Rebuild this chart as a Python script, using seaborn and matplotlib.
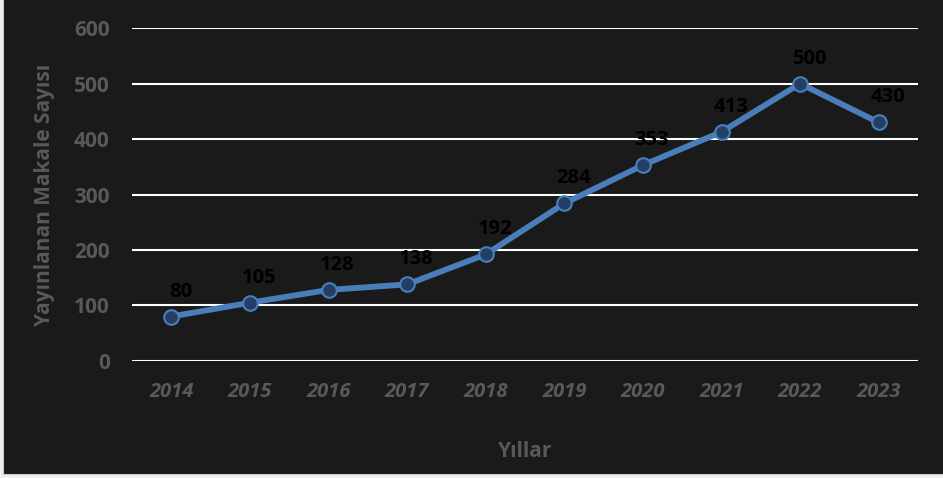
import numpy as np
import pandas as pd
import matplotlib.pyplot as plt
import seaborn as sns

years = ['2014', '2015', '2016', '2017', '2018', '2019', '2020', '2021', '2022', '2023']
counts = [80, 105, 128, 138, 192, 284, 353, 413, 500, 430]
yticks = [0, 100, 200, 300, 400, 500, 600]

df = pd.DataFrame({'Yıl': years, 'Sayı': counts})

sns.set_style('dark')
plt.rcParams['font.family'] = ['Open Sans', 'DejaVu Sans']

bg = '#1a1a1a'
grey = '#595959'
blue = '#4a7ebb'

fig = plt.figure(figsize=(9.43, 4.78), dpi=100, facecolor='#f0f0f0')
# dark chart area, the outer edge of the picture stays light
fig.add_artist(plt.Rectangle((3 / 943, 4 / 478), 1, 1, transform=fig.transFigure,
                             facecolor=bg, edgecolor='#c8c8c8', linewidth=0.8,
                             zorder=0))
ax = fig.add_axes([0.14, 0.245, 0.8335, 0.696])
ax.set_facecolor(bg)

sns.lineplot(data=df, x='Yıl', y='Sayı', ax=ax, color=blue, linewidth=4.2,
             marker='o', markersize=10.5, markerfacecolor='#243f66',
             markeredgecolor=blue, markeredgewidth=1.5, zorder=3)

# data labels above the points
for i, v in enumerate(counts):
    ax.annotate(str(v), (i, v), xytext=(9, 25), textcoords='offset pixels',
                ha='center', va='center', fontsize=14.5, fontweight='bold',
                color='black', zorder=4)

ax.set_xlim(-0.5, len(years) - 0.5)
ax.set_ylim(0, 600)
ax.set_yticks(yticks)
for y in yticks:
    ax.axhline(y, color='white', linewidth=1.5, zorder=1)
ax.grid(False)
for s in ax.spines.values():
    s.set_visible(False)

ax.tick_params(axis='y', length=0, pad=16, labelcolor=grey, labelsize=15)
ax.tick_params(axis='x', length=0, pad=15, labelcolor=grey, labelsize=14.5)
for t in ax.get_yticklabels():
    t.set_fontweight('bold')
for t in ax.get_xticklabels():
    t.set_fontweight('bold')
    t.set_fontstyle('italic')

ax.set_xlabel('Yıllar', fontsize=15, fontweight='bold', color=grey, labelpad=28)
ax.set_ylabel('Yayınlanan Makale Sayısı', fontsize=15, fontweight='bold',
              color=grey, labelpad=14)

plt.savefig('out.png', dpi=100, facecolor=fig.get_facecolor())
